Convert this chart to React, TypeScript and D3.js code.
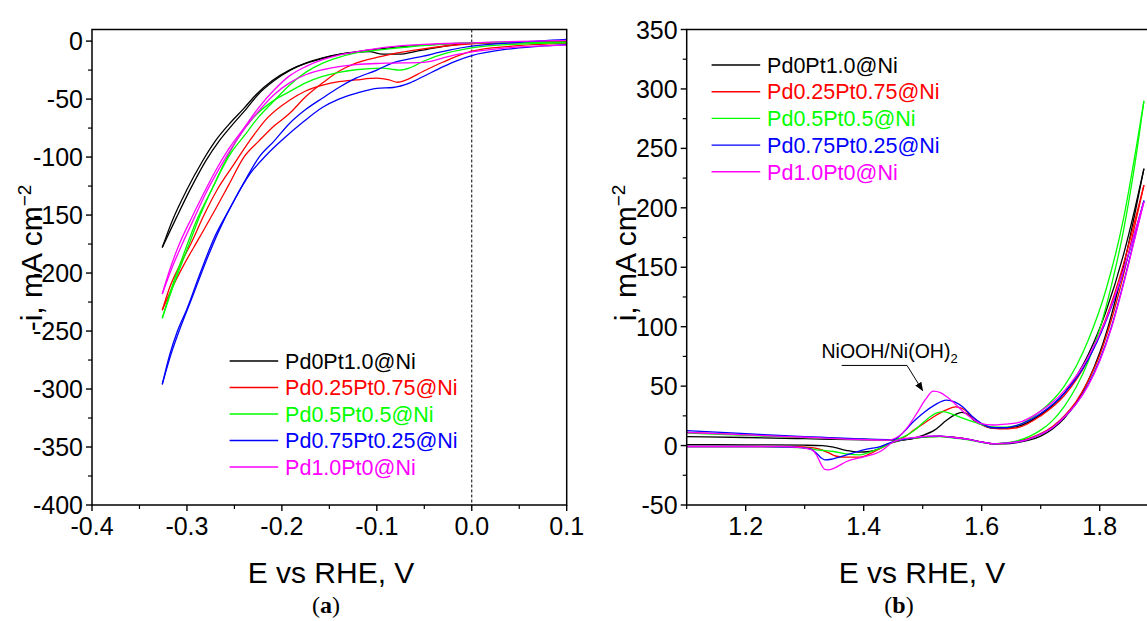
import React from 'react';
import * as d3 from 'd3';

type Pt = [number, number];

const SERIES_NAMES = ['Pd0Pt1.0@Ni', 'Pd0.25Pt0.75@Ni', 'Pd0.5Pt0.5@Ni', 'Pd0.75Pt0.25@Ni', 'Pd1.0Pt0@Ni'];
const SERIES_COLORS = ['#000000', '#ff0000', '#00ff00', '#0000ff', '#ff00ff'];

// ---------- Panel (a): HER, E vs RHE (V), -i (mA cm-2); two sweep branches per sample ----------
const herBlackA: Pt[] = [[-0.326,-178],[-0.315,-154],[-0.300,-128],[-0.284,-104],[-0.270,-86],[-0.256,-72],[-0.240,-58],[-0.227,-46],[-0.210,-34],[-0.192,-25],[-0.175,-19],[-0.157,-14.5],[-0.140,-11.5],[-0.122,-9.6],[-0.108,-9],[-0.094,-11.3],[-0.076,-11.3],[-0.060,-9],[-0.040,-6],[-0.020,-3.5],[0.000,-2],[0.050,-1.2],[0.100,-0.9]];
const herBlackB: Pt[] = [[-0.326,-178],[-0.311,-152],[-0.296,-127],[-0.280,-103],[-0.266,-86],[-0.252,-72],[-0.237,-58],[-0.225,-46],[-0.208,-34],[-0.191,-25],[-0.174,-19],[-0.157,-14.8],[-0.140,-11.5],[-0.122,-9.3],[-0.100,-7],[-0.087,-5.8],[-0.051,-3.5],[0.000,-1.5],[0.050,-0.8],[0.100,-0.6]];
const herRedA: Pt[] = [[-0.326,-232],[-0.318,-212],[-0.308,-194],[-0.296,-175],[-0.282,-150],[-0.268,-128],[-0.252,-108],[-0.234,-86],[-0.215,-66],[-0.192,-51],[-0.175,-43],[-0.157,-38],[-0.140,-35],[-0.122,-33.5],[-0.100,-32],[-0.087,-33.5],[-0.078,-35.5],[-0.069,-33.5],[-0.051,-26],[-0.030,-18],[0.000,-8.7],[0.040,-4.5],[0.100,-2]];
const herRedB: Pt[] = [[-0.326,-232],[-0.314,-210],[-0.304,-194],[-0.288,-171],[-0.270,-145],[-0.256,-124],[-0.240,-100],[-0.224,-86],[-0.208,-73],[-0.192,-62.5],[-0.175,-48],[-0.157,-36],[-0.140,-26],[-0.122,-19],[-0.100,-14],[-0.087,-11.6],[-0.051,-6.7],[0.000,-2.3],[0.050,-1.2],[0.100,-0.6]];
const herGreenA: Pt[] = [[-0.326,-239],[-0.315,-210],[-0.304,-185],[-0.290,-155],[-0.272,-125],[-0.260,-104],[-0.248,-86],[-0.230,-66],[-0.210,-52],[-0.192,-43.6],[-0.175,-36],[-0.157,-30.5],[-0.140,-27],[-0.122,-24.7],[-0.094,-23.3],[-0.082,-24.5],[-0.076,-25],[-0.066,-23.3],[-0.051,-17.4],[-0.025,-10],[0.000,-5.8],[0.050,-2.5],[0.100,-1.5]];
const herGreenB: Pt[] = [[-0.326,-239],[-0.313,-208],[-0.300,-180],[-0.286,-150],[-0.268,-118],[-0.254,-97],[-0.240,-82],[-0.225,-66],[-0.210,-53],[-0.192,-38],[-0.175,-27],[-0.157,-19],[-0.140,-14],[-0.122,-10.2],[-0.087,-6.7],[-0.051,-3.8],[0.000,-1.5],[0.050,-1.1],[0.100,-0.9]];
const herBlueA: Pt[] = [[-0.326,-296],[-0.318,-270],[-0.310,-250],[-0.300,-231],[-0.286,-200],[-0.272,-171],[-0.256,-146],[-0.240,-122],[-0.224,-100],[-0.208,-86],[-0.192,-71],[-0.175,-59],[-0.157,-49],[-0.140,-40],[-0.122,-32],[-0.100,-25],[-0.087,-20],[-0.051,-13],[-0.025,-8],[0.000,-4.4],[0.050,-1],[0.100,1.5]];
const herBlueB: Pt[] = [[-0.326,-296],[-0.316,-268],[-0.306,-245],[-0.294,-220],[-0.280,-190],[-0.266,-163],[-0.250,-137],[-0.234,-115],[-0.216,-98],[-0.198,-84],[-0.178,-70],[-0.157,-57],[-0.140,-50],[-0.122,-45],[-0.100,-40.7],[-0.083,-40],[-0.065,-36],[-0.051,-30.5],[-0.030,-22],[-0.016,-17],[0.000,-12.5],[0.037,-7],[0.070,-4.5],[0.100,-3]];
const herMagentaA: Pt[] = [[-0.326,-218],[-0.318,-197],[-0.308,-175],[-0.296,-154],[-0.284,-134],[-0.270,-112],[-0.256,-93],[-0.240,-75],[-0.225,-58],[-0.208,-42],[-0.192,-30],[-0.175,-22],[-0.157,-16],[-0.140,-12],[-0.122,-9.3],[-0.087,-5],[-0.051,-2.9],[0.000,-1.5],[0.050,-0.3],[0.100,0.6]];
const herMagentaB: Pt[] = [[-0.326,-218],[-0.316,-196],[-0.305,-175],[-0.292,-152],[-0.280,-131],[-0.266,-110],[-0.252,-91],[-0.238,-74],[-0.222,-58],[-0.208,-46],[-0.192,-36],[-0.175,-29],[-0.157,-24.7],[-0.140,-22],[-0.122,-20.3],[-0.100,-19.3],[-0.087,-19],[-0.051,-18.3],[-0.030,-14.5],[-0.015,-11.5],[0.000,-9.3],[0.037,-5.8],[0.070,-4.3],[0.100,-3.5]];

// ---------- Panel (b): OER CV, forward and reverse sweeps ----------
const oerBlackFwd: Pt[] = [[1.10,7.5],[1.20,6.8],[1.30,5.8],[1.40,4.8],[1.45,4.5],[1.48,5.5],[1.50,8.5],[1.52,13],[1.541,21.5],[1.555,26],[1.566,28],[1.576,26.5],[1.586,21.5],[1.60,17.5],[1.614,15],[1.63,14.5],[1.66,16],[1.70,26],[1.74,44],[1.78,76],[1.81,112],[1.84,160],[1.86,200],[1.875,233]];
const oerRedFwd: Pt[] = [[1.10,11],[1.20,9],[1.30,7],[1.40,5.2],[1.45,4.6],[1.47,7.5],[1.485,13],[1.50,18],[1.518,24],[1.54,30],[1.556,32.5],[1.568,31],[1.58,26],[1.595,19.5],[1.61,15.5],[1.63,14],[1.66,15],[1.70,25],[1.74,42],[1.78,72],[1.81,106],[1.84,152],[1.86,190],[1.875,219]];
const oerGreenFwd: Pt[] = [[1.10,10.5],[1.20,8.5],[1.30,6.8],[1.40,5.2],[1.45,4.8],[1.47,8],[1.485,12.5],[1.507,22],[1.522,27],[1.535,28.5],[1.55,26.5],[1.563,24],[1.586,20],[1.614,16],[1.64,15.5],[1.66,17],[1.70,29],[1.74,50],[1.78,88],[1.81,130],[1.84,190],[1.86,245],[1.875,290]];
const oerBlueFwd: Pt[] = [[1.10,12.5],[1.20,10],[1.30,7.5],[1.40,5.5],[1.45,5],[1.465,10],[1.484,20],[1.50,27],[1.52,34],[1.54,38.3],[1.555,36.5],[1.569,32],[1.585,24],[1.60,18.5],[1.62,15],[1.64,15],[1.66,17],[1.70,27],[1.74,44],[1.78,72],[1.81,104],[1.84,146],[1.86,180],[1.875,206]];
const oerMagentaFwd: Pt[] = [[1.10,11],[1.20,9],[1.30,7],[1.40,5],[1.44,4.6],[1.46,8],[1.475,16],[1.49,27],[1.505,39],[1.518,45.8],[1.53,44.5],[1.541,41],[1.555,35],[1.569,28.5],[1.583,23],[1.597,18.7],[1.62,17.3],[1.64,18],[1.66,19],[1.70,29],[1.74,46],[1.78,74],[1.81,105],[1.84,147],[1.86,180],[1.875,205]];
const oerBlackRev: Pt[] = [[1.10,0.8],[1.20,0.6],[1.30,0.3],[1.33,0],[1.35,-1.5],[1.37,-4],[1.39,-5.5],[1.41,-5],[1.425,-3],[1.44,1],[1.46,4],[1.49,6.5],[1.51,7.5],[1.53,7.8],[1.55,7],[1.58,5],[1.60,3],[1.62,1.5],[1.64,1.5],[1.66,2.5],[1.68,4.5],[1.70,8],[1.72,14],[1.74,23],[1.76,36],[1.78,54],[1.80,78],[1.82,110],[1.84,150],[1.86,196],[1.875,233]];
const oerRedRev: Pt[] = [[1.10,-0.8],[1.20,-0.8],[1.28,-1],[1.315,-2],[1.325,-3],[1.34,-6],[1.354,-9],[1.37,-9.8],[1.394,-9.8],[1.41,-7],[1.43,-2],[1.45,3],[1.47,5.5],[1.49,6.5],[1.51,7.5],[1.53,7.8],[1.55,7],[1.58,5],[1.60,3],[1.62,1.5],[1.64,2],[1.66,3.5],[1.68,6],[1.70,10],[1.72,16],[1.74,25],[1.76,37],[1.78,54],[1.80,76],[1.82,106],[1.84,143],[1.86,186],[1.875,219]];
const oerGreenRev: Pt[] = [[1.10,-0.8],[1.20,-0.8],[1.30,-2],[1.32,-3.6],[1.335,-4.2],[1.349,-5],[1.37,-7],[1.394,-7.8],[1.41,-5.5],[1.428,-2.2],[1.45,3],[1.47,5.5],[1.49,6.5],[1.51,7.3],[1.53,7.5],[1.55,6.5],[1.58,4.5],[1.60,2.8],[1.62,1.5],[1.64,2.2],[1.66,4],[1.68,7.5],[1.70,13],[1.72,21],[1.74,33],[1.76,49],[1.78,70],[1.80,98],[1.82,135],[1.84,180],[1.86,238],[1.875,290]];
const oerBlueRev: Pt[] = [[1.10,-0.8],[1.20,-0.8],[1.28,-1.3],[1.309,-2.8],[1.32,-6.4],[1.327,-10],[1.334,-12],[1.345,-11.5],[1.371,-7.8],[1.40,-3.6],[1.428,-0.8],[1.45,3.4],[1.47,5.5],[1.49,6.8],[1.51,7.8],[1.53,8],[1.55,7],[1.58,5],[1.60,3],[1.62,1.5],[1.64,2],[1.66,3],[1.68,5.5],[1.70,9.5],[1.72,15],[1.74,24],[1.76,35],[1.78,51],[1.80,72],[1.82,100],[1.84,136],[1.86,176],[1.875,206]];
const oerMagentaRev: Pt[] = [[1.10,-0.8],[1.20,-0.8],[1.258,-0.8],[1.29,-1.5],[1.312,-3.6],[1.32,-7.8],[1.327,-15],[1.334,-20],[1.34,-20.4],[1.35,-19],[1.371,-13.4],[1.40,-9.5],[1.428,-5],[1.45,3],[1.47,6],[1.49,7],[1.51,8],[1.53,8],[1.55,7],[1.58,5],[1.60,3],[1.62,1.5],[1.64,2],[1.66,3],[1.68,5.5],[1.70,9.5],[1.72,15],[1.74,24],[1.76,35],[1.78,50],[1.80,71],[1.82,99],[1.84,135],[1.86,175],[1.875,205]];

// ticks
const herXTicks = [-0.4, -0.3, -0.2, -0.1, 0.0, 0.1];
const herXMinor = [-0.35, -0.25, -0.15, -0.05, 0.05];
const herYTicks = [0, -50, -100, -150, -200, -250, -300, -350, -400];
const herYMinor = [-25, -75, -125, -175, -225, -275, -325, -375];
const oerXTicks = [1.2, 1.4, 1.6, 1.8];
const oerXMinor = [1.1, 1.3, 1.5, 1.7];
const oerYTicks = [-50, 0, 50, 100, 150, 200, 250, 300, 350];
const oerYMinor = [-25, 25, 75, 125, 175, 225, 275, 325];

// annotation anchor points (data coords)
const annotText = { e: 1.3285, i: 73.9 };
const annotPath: Pt[] = [[1.3627, 67.4], [1.4734, 67.4], [1.4998, 46.3]];

const herData = [[herBlackA, herBlackB], [herRedA, herRedB], [herGreenA, herGreenB], [herBlueA, herBlueB], [herMagentaA, herMagentaB]];
const oerData = [[oerBlackFwd, oerBlackRev], [oerRedFwd, oerRedRev], [oerGreenFwd, oerGreenRev], [oerBlueFwd, oerBlueRev], [oerMagentaFwd, oerMagentaRev]];

const FONT = '"Liberation Sans", Arial, sans-serif';
const SERIF = '"Liberation Serif", "DejaVu Serif", serif';
const TICK_FS = 25;
const W = 1147, H = 621;

export default function App() {
  // Panel a geometry
  const aL = 92, aR = 566.7, top = 29.5, bot = 505;
  const xa = d3.scaleLinear().domain([-0.4, 0.1]).range([aL, aR]);
  const ya = d3.scaleLinear().domain([-400, 10]).range([bot, top]);
  // Panel b geometry
  const bL = 686.7;
  const xb = d3.scaleLinear().domain([1.1, 1.9]).range([bL, bL + 0.8 * 590]);
  const yb = d3.scaleLinear().domain([-50, 350]).range([bot, top]);

  const lineA = d3.line<Pt>().x(d => xa(d[0])).y(d => ya(d[1])).curve(d3.curveMonotoneX);
  const lineB = d3.line<Pt>().x(d => xb(d[0])).y(d => yb(d[1])).curve(d3.curveMonotoneX);

  const fmt1 = (v: number) => v.toFixed(1);
  const majorLen = 6, minorLen = 4;

  const xAxis = (sc: any, ticks: number[], minor: number[], fmt: (v: number) => string) => (
    <g>
      {ticks.map(t => (
        <g key={'M' + t}>
          <line x1={sc(t)} x2={sc(t)} y1={bot} y2={bot + majorLen} stroke="#000" strokeWidth={1.4} />
          <text x={sc(t)} y={bot + 30} textAnchor="middle" fontSize={TICK_FS} fontFamily={FONT}>{fmt(t)}</text>
        </g>
      ))}
      {minor.map(t => (
        <line key={'m' + t} x1={sc(t)} x2={sc(t)} y1={bot} y2={bot + minorLen} stroke="#000" strokeWidth={1.2} />
      ))}
    </g>
  );
  const yAxis = (sc: any, x0: number, ticks: number[], minor: number[]) => (
    <g>
      {ticks.map(t => (
        <g key={'M' + t}>
          <line x1={x0 - majorLen} x2={x0} y1={sc(t)} y2={sc(t)} stroke="#000" strokeWidth={1.4} />
          <text x={x0 - 9} y={sc(t)} dy="0.36em" textAnchor="end" fontSize={TICK_FS} fontFamily={FONT}>{String(t)}</text>
        </g>
      ))}
      {minor.map(t => (
        <line key={'m' + t} x1={x0 - minorLen} x2={x0} y1={sc(t)} y2={sc(t)} stroke="#000" strokeWidth={1.2} />
      ))}
    </g>
  );

  const legend = (lx: number, ly: number, gap: number) => (
    <g>
      {SERIES_NAMES.map((n, k) => (
        <g key={n}>
          <line x1={lx} x2={lx + 48.6} y1={ly + k * gap} y2={ly + k * gap} stroke={SERIES_COLORS[k]} strokeWidth={1.4} />
          <text x={lx + 55.5} y={ly + k * gap} dy="0.36em" fontSize={21.5} fontFamily={FONT} fill={SERIES_COLORS[k]}>{n}</text>
        </g>
      ))}
    </g>
  );

  const annPts = annotPath.map(p => [xb(p[0]), yb(p[1])]);

  return (
    <div style={{ position: 'absolute', left: 0, top: 0 }}>
      <svg width={W} height={H} viewBox={`0 0 ${W} ${H}`} style={{ display: 'block', background: '#fff' }}>
        <defs>
          <clipPath id="clipA"><rect x={aL} y={top} width={aR - aL} height={bot - top} /></clipPath>
          <clipPath id="clipB"><rect x={bL} y={top} width={W - bL + 20} height={bot - top} /></clipPath>
          <marker id="arrow" viewBox="0 0 10 10" refX="9" refY="5" markerWidth="9" markerHeight="9" orient="auto" markerUnits="userSpaceOnUse">
            <path d="M0,1 L10,5 L0,9 z" fill="#000" />
          </marker>
        </defs>

        {/* ---------- Panel a ---------- */}
        <line x1={xa(0)} x2={xa(0)} y1={top} y2={bot} stroke="#000" strokeWidth={1} strokeDasharray="3,2" />
        <g clipPath="url(#clipA)">
          {herData.map((branches, k) => branches.map((br, j) => (
            <path key={k + '-' + j} d={lineA(br) || ''} fill="none" stroke={SERIES_COLORS[k]} strokeWidth={1.3} />
          )))}
        </g>
        <rect x={aL} y={top} width={aR - aL} height={bot - top} fill="none" stroke="#000" strokeWidth={1.5} />
        {xAxis(xa, herXTicks, herXMinor, fmt1)}
        {yAxis(ya, aL, herYTicks, herYMinor)}
        {legend(229.6, 361, 26.5)}
        <text transform={`translate(42,258) rotate(-90)`} textAnchor="middle" fontSize={30} fontFamily={FONT}>
          -i, mA cm<tspan dy="-11" fontSize={19}>−2</tspan>
        </text>
        <text x={331} y={583} textAnchor="middle" fontSize={30} fontFamily={FONT}>E vs RHE, V</text>
        <text x={326} y={613} textAnchor="middle" fontSize={24} fontFamily={SERIF}>
          (<tspan fontWeight="bold">a</tspan>)
        </text>

        {/* ---------- Panel b ---------- */}
        <g clipPath="url(#clipB)">
          {oerData.map((branches, k) => branches.map((br, j) => (
            <path key={k + '-' + j} d={lineB(br) || ''} fill="none" stroke={SERIES_COLORS[k]} strokeWidth={1.3} />
          )))}
        </g>
        <rect x={bL} y={top} width={xb(1.9) - bL} height={bot - top} fill="none" stroke="#000" strokeWidth={1.5} />
        {xAxis(xb, oerXTicks, oerXMinor, fmt1)}
        {yAxis(yb, bL, oerYTicks, oerYMinor)}
        {legend(711.6, 65, 26.7)}
        <text x={xb(annotText.e)} y={yb(annotText.i)} fontSize={19.5} fontFamily={FONT}>
          NiOOH/Ni(OH)<tspan dy="5" fontSize={13}>2</tspan>
        </text>
        <polyline points={annPts.map(p => p.join(',')).join(' ')} fill="none" stroke="#000" strokeWidth={1} markerEnd="url(#arrow)" />
        <text transform={`translate(636,253) rotate(-90)`} textAnchor="middle" fontSize={30} fontFamily={FONT}>
          i, mA cm<tspan dy="-11" fontSize={19}>−2</tspan>
        </text>
        <text x={922} y={583} textAnchor="middle" fontSize={30} fontFamily={FONT}>E vs RHE, V</text>
        <text x={899} y={613} textAnchor="middle" fontSize={24} fontFamily={SERIF}>
          (<tspan fontWeight="bold">b</tspan>)
        </text>
      </svg>
    </div>
  );
}
